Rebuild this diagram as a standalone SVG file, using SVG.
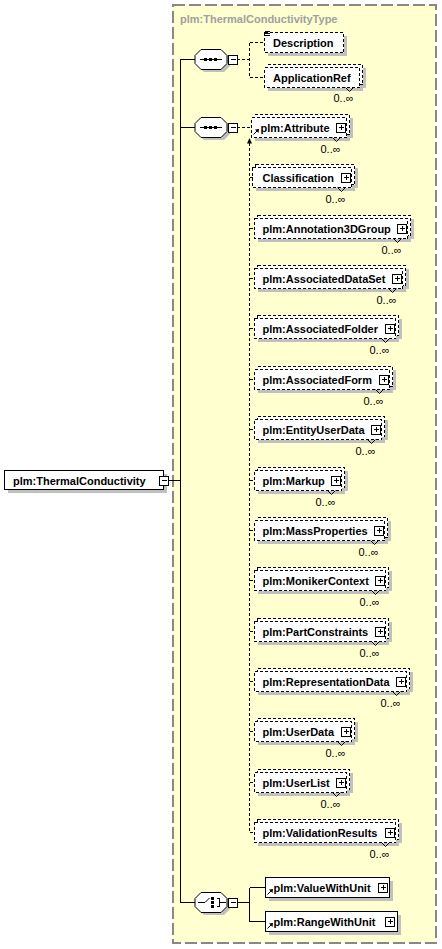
<svg xmlns="http://www.w3.org/2000/svg" width="442" height="949" viewBox="0 0 442 949">
<style>
.t{font-family:"Liberation Sans",Arial,sans-serif;font-size:11px;font-weight:bold;fill:#000}
.ti{font-family:"Liberation Sans",Arial,sans-serif;font-size:11px;font-weight:bold;fill:#a0a0a0}
.m{font-family:"Liberation Sans",Arial,sans-serif;font-size:11px;fill:#000;text-anchor:middle}
.sh{fill:#c0c0c0;shape-rendering:crispEdges}
.bx{fill:#fff;stroke:#000;stroke-dasharray:3 2;shape-rendering:crispEdges}
.sb{fill:#fff;stroke:#000;shape-rendering:crispEdges}
.ln{fill:none;stroke:#000;shape-rendering:crispEdges}
.dl{fill:none;stroke:#000;stroke-dasharray:3 2;shape-rendering:crispEdges}
.v{fill:none;stroke:#000}
.oct{fill:#fff;stroke:#000}
.octs{fill:#c0c0c0}
</style>
<defs>
<path id="oct" d="M6,-10H26L32,-4V4L26,10H6L0,4V-4Z"/>
<g id="plus"><rect class="sb" x="0" y="0" width="9" height="9"/><path class="ln" d="M2,4.5H7M4.5,2V7"/></g>
<g id="minus"><rect class="sb" x="0" y="0" width="9" height="9"/><path class="ln" d="M2,4.5H7"/></g>
</defs>

<g id="type-box">
<rect x="173" y="5" width="263" height="938" fill="#FFFFD0" stroke="#888" stroke-width="2" stroke-dasharray="12 4"/>
<text class="ti" x="180" y="23">plm:ThermalConductivityType</text>
</g>

<g id="connectors">
<path class="ln" d="M168,480.5H180.5M180.5,59V902.5M180.5,59.5H195M180.5,127.5H195M180.5,902.5H195"/>
<path class="dl" d="M237,59.5H249.5M249.5,42.5V77.5M249.5,42.5H264M249.5,77.5H264"/>
<path class="dl" d="M237,127.5H251.5M249.5,143V832.5M249.5,177.5H252.5M249.5,228.5H254.5M249.5,278.5H254.5M249.5,328.5H254.5M249.5,379.5H254.5M249.5,429.5H254.5M249.5,480.5H254.5M249.5,530.5H254.5M249.5,580.5H254.5M249.5,631.5H254.5M249.5,681.5H254.5M249.5,731.5H254.5M249.5,782.5H254.5M249.5,832.5H254.5"/>
<polygon points="249.5,138 247,143.5 252,143.5" fill="#000"/>
<path class="ln" d="M237,902.5H249.5M249.5,887.5V921.5M249.5,887.5H265M249.5,921.5H265"/>
</g>

<g id="root">
<rect class="sh" x="7.5" y="473.5" width="159" height="19"/>
<rect class="sb" x="4.5" y="470.5" width="159" height="19"/>
<text class="t" x="13" y="484.5">plm:ThermalConductivity</text>
<use href="#minus" x="159.5" y="476"/>
</g>

<g id="sequence1">
<use href="#oct" x="198" y="62" class="octs"/>
<use href="#oct" x="195" y="59.5" class="oct"/>
<path class="ln" d="M200,59.5H222"/>
<rect x="204" y="58" width="3" height="3"/><rect x="209" y="58" width="3" height="3"/><rect x="214" y="58" width="3" height="3"/>
<use href="#minus" x="228.5" y="55"/>
</g>

<g id="description">
<rect class="sh" x="267.5" y="35.5" width="79" height="20"/>
<rect class="bx" x="264.5" y="32.5" width="79" height="20"/>
<path class="ln" d="M265,31.5H270M265,33.5H270M265,35.5H270"/>
<text class="t" x="273" y="46.5">Description</text>
</g>

<g id="applicationref">
<rect class="sh" x="270.5" y="67.5" width="95" height="20"/>
<rect class="sh" x="267.5" y="70.5" width="95" height="20"/>
<rect class="bx" x="267.5" y="64.5" width="95" height="20"/>
<rect class="bx" x="264.5" y="67.5" width="95" height="20"/>
<text class="t" x="273" y="81.5">ApplicationRef</text>
<polyline class="v" points="345.5,87.5 349.5,91.5 353.5,87.5"/>
<text class="m" x="343.5" y="102">0..∞</text>
</g>

<g id="sequence2">
<use href="#oct" x="198" y="130" class="octs"/>
<use href="#oct" x="195" y="127.5" class="oct"/>
<path class="ln" d="M200,127.5H222"/>
<rect x="204" y="126" width="3" height="3"/><rect x="209" y="126" width="3" height="3"/><rect x="214" y="126" width="3" height="3"/>
<use href="#minus" x="228.5" y="123"/>
</g>

<g id="attribute">
<rect class="sh" x="257.5" y="117.5" width="95" height="20"/><rect class="sh" x="254.5" y="120.5" width="95" height="20"/>
<rect class="bx" x="254.5" y="114.5" width="95" height="20"/><rect class="bx" x="251.5" y="117.5" width="95" height="20"/>
<path d="M253.5,134.5L257.5,130.5" stroke="#000" fill="none"/><polygon points="259,129 255,129.5 258.5,133" fill="#000"/>
<text class="t" x="260.5" y="131.5">plm:Attribute</text>
<use href="#plus" x="336.5" y="123"/>
<polyline class="v" points="332.5,137.5 336.5,141.5 340.5,137.5"/>
<text class="m" x="330.5" y="152.5">0..∞</text>
</g>

<g id="classification">
<rect class="sh" x="258.5" y="167.5" width="99" height="20"/><rect class="sh" x="255.5" y="170.5" width="99" height="20"/>
<rect class="bx" x="255.5" y="164.5" width="99" height="20"/><rect class="bx" x="252.5" y="167.5" width="99" height="20"/>
<text class="t" x="262.5" y="181.5">Classification</text>
<use href="#plus" x="341.5" y="173"/>
<polyline class="v" points="337.5,187.5 341.5,191.5 345.5,187.5"/>
<text class="m" x="335.5" y="202.5">0..∞</text>
</g>

<g id="annotation3dgroup">
<rect class="sh" x="260.5" y="218.5" width="153" height="20"/><rect class="sh" x="257.5" y="221.5" width="153" height="20"/>
<rect class="bx" x="257.5" y="215.5" width="153" height="20"/><rect class="bx" x="254.5" y="218.5" width="153" height="20"/>
<text class="t" x="262.5" y="232.5">plm:Annotation3DGroup</text>
<use href="#plus" x="397.5" y="224"/>
<polyline class="v" points="393.5,238.5 397.5,242.5 401.5,238.5"/>
<text class="m" x="391.5" y="253.5">0..∞</text>
</g>

<g id="associateddataset">
<rect class="sh" x="260.5" y="268.5" width="148" height="20"/><rect class="sh" x="257.5" y="271.5" width="148" height="20"/>
<rect class="bx" x="257.5" y="265.5" width="148" height="20"/><rect class="bx" x="254.5" y="268.5" width="148" height="20"/>
<text class="t" x="262.5" y="282.5">plm:AssociatedDataSet</text>
<use href="#plus" x="392.5" y="274"/>
<polyline class="v" points="388.5,288.5 392.5,292.5 396.5,288.5"/>
<text class="m" x="386.5" y="303.5">0..∞</text>
</g>

<g id="associatedfolder">
<rect class="sh" x="260.5" y="318.5" width="141" height="20"/><rect class="sh" x="257.5" y="321.5" width="141" height="20"/>
<rect class="bx" x="257.5" y="315.5" width="141" height="20"/><rect class="bx" x="254.5" y="318.5" width="141" height="20"/>
<text class="t" x="262.5" y="332.5">plm:AssociatedFolder</text>
<use href="#plus" x="385.5" y="324"/>
<polyline class="v" points="381.5,338.5 385.5,342.5 389.5,338.5"/>
<text class="m" x="379.5" y="353.5">0..∞</text>
</g>

<g id="associatedform">
<rect class="sh" x="260.5" y="369.5" width="135" height="20"/><rect class="sh" x="257.5" y="372.5" width="135" height="20"/>
<rect class="bx" x="257.5" y="366.5" width="135" height="20"/><rect class="bx" x="254.5" y="369.5" width="135" height="20"/>
<text class="t" x="262.5" y="383.5">plm:AssociatedForm</text>
<use href="#plus" x="379.5" y="375"/>
<polyline class="v" points="375.5,389.5 379.5,393.5 383.5,389.5"/>
<text class="m" x="373.5" y="404.5">0..∞</text>
</g>

<g id="entityuserdata">
<rect class="sh" x="260.5" y="419.5" width="127" height="20"/><rect class="sh" x="257.5" y="422.5" width="127" height="20"/>
<rect class="bx" x="257.5" y="416.5" width="127" height="20"/><rect class="bx" x="254.5" y="419.5" width="127" height="20"/>
<text class="t" x="262.5" y="433.5">plm:EntityUserData</text>
<use href="#plus" x="371.5" y="425"/>
<polyline class="v" points="367.5,439.5 371.5,443.5 375.5,439.5"/>
<text class="m" x="365.5" y="454.5">0..∞</text>
</g>

<g id="markup">
<rect class="sh" x="260.5" y="470.5" width="87" height="20"/><rect class="sh" x="257.5" y="473.5" width="87" height="20"/>
<rect class="bx" x="257.5" y="467.5" width="87" height="20"/><rect class="bx" x="254.5" y="470.5" width="87" height="20"/>
<text class="t" x="262.5" y="484.5">plm:Markup</text>
<use href="#plus" x="331.5" y="476"/>
<polyline class="v" points="327.5,490.5 331.5,494.5 335.5,490.5"/>
<text class="m" x="325.5" y="505.5">0..∞</text>
</g>

<g id="massproperties">
<rect class="sh" x="260.5" y="520.5" width="130" height="20"/><rect class="sh" x="257.5" y="523.5" width="130" height="20"/>
<rect class="bx" x="257.5" y="517.5" width="130" height="20"/><rect class="bx" x="254.5" y="520.5" width="130" height="20"/>
<text class="t" x="262.5" y="534.5">plm:MassProperties</text>
<use href="#plus" x="374.5" y="526"/>
<polyline class="v" points="370.5,540.5 374.5,544.5 378.5,540.5"/>
<text class="m" x="368.5" y="555.5">0..∞</text>
</g>

<g id="monikercontext">
<rect class="sh" x="260.5" y="570.5" width="131" height="20"/><rect class="sh" x="257.5" y="573.5" width="131" height="20"/>
<rect class="bx" x="257.5" y="567.5" width="131" height="20"/><rect class="bx" x="254.5" y="570.5" width="131" height="20"/>
<text class="t" x="262.5" y="584.5">plm:MonikerContext</text>
<use href="#plus" x="375.5" y="576"/>
<polyline class="v" points="371.5,590.5 375.5,594.5 379.5,590.5"/>
<text class="m" x="369.5" y="605.5">0..∞</text>
</g>

<g id="partconstraints">
<rect class="sh" x="260.5" y="621.5" width="131" height="20"/><rect class="sh" x="257.5" y="624.5" width="131" height="20"/>
<rect class="bx" x="257.5" y="618.5" width="131" height="20"/><rect class="bx" x="254.5" y="621.5" width="131" height="20"/>
<text class="t" x="262.5" y="635.5">plm:PartConstraints</text>
<use href="#plus" x="375.5" y="627"/>
<polyline class="v" points="371.5,641.5 375.5,645.5 379.5,641.5"/>
<text class="m" x="369.5" y="656.5">0..∞</text>
</g>

<g id="representationdata">
<rect class="sh" x="260.5" y="671.5" width="152" height="20"/><rect class="sh" x="257.5" y="674.5" width="152" height="20"/>
<rect class="bx" x="257.5" y="668.5" width="152" height="20"/><rect class="bx" x="254.5" y="671.5" width="152" height="20"/>
<text class="t" x="262.5" y="685.5">plm:RepresentationData</text>
<use href="#plus" x="396.5" y="677"/>
<polyline class="v" points="392.5,691.5 396.5,695.5 400.5,691.5"/>
<text class="m" x="390.5" y="706.5">0..∞</text>
</g>

<g id="userdata">
<rect class="sh" x="260.5" y="721.5" width="97" height="20"/><rect class="sh" x="257.5" y="724.5" width="97" height="20"/>
<rect class="bx" x="257.5" y="718.5" width="97" height="20"/><rect class="bx" x="254.5" y="721.5" width="97" height="20"/>
<text class="t" x="262.5" y="735.5">plm:UserData</text>
<use href="#plus" x="341.5" y="727"/>
<polyline class="v" points="337.5,741.5 341.5,745.5 345.5,741.5"/>
<text class="m" x="335.5" y="756.5">0..∞</text>
</g>

<g id="userlist">
<rect class="sh" x="260.5" y="772.5" width="92" height="20"/><rect class="sh" x="257.5" y="775.5" width="92" height="20"/>
<rect class="bx" x="257.5" y="769.5" width="92" height="20"/><rect class="bx" x="254.5" y="772.5" width="92" height="20"/>
<text class="t" x="262.5" y="786.5">plm:UserList</text>
<use href="#plus" x="336.5" y="778"/>
<polyline class="v" points="332.5,792.5 336.5,796.5 340.5,792.5"/>
<text class="m" x="330.5" y="807.5">0..∞</text>
</g>

<g id="validationresults">
<rect class="sh" x="260.5" y="822.5" width="141" height="20"/><rect class="sh" x="257.5" y="825.5" width="141" height="20"/>
<rect class="bx" x="257.5" y="819.5" width="141" height="20"/><rect class="bx" x="254.5" y="822.5" width="141" height="20"/>
<text class="t" x="262.5" y="836.5">plm:ValidationResults</text>
<use href="#plus" x="385.5" y="828"/>
<polyline class="v" points="381.5,842.5 385.5,846.5 389.5,842.5"/>
<text class="m" x="379.5" y="857.5">0..∞</text>
</g>

<g id="choice">
<use href="#oct" x="198" y="905" class="octs"/>
<use href="#oct" x="195" y="902.5" class="oct"/>
<path class="ln" d="M198,902.5H205M216.5,898.5H219.5V906.5H216.5M219.5,902.5H226"/>
<path d="M205,902.5L209.5,898" stroke="#000" fill="none"/>
<rect x="211" y="897" width="3" height="3"/><rect x="211" y="901" width="3" height="3"/><rect x="211" y="905" width="3" height="3"/>
<use href="#minus" x="228.5" y="898"/>
</g>

<g id="valuewithunit">
<rect class="sh" x="268.5" y="880.5" width="124" height="20"/>
<rect class="sb" x="265.5" y="877.5" width="124" height="20"/>
<path d="M267.5,894.5L271.5,890.5" stroke="#000" fill="none"/><polygon points="273,889 269,889.5 272.5,893" fill="#000"/>
<text class="t" x="273.5" y="891.5">plm:ValueWithUnit</text>
<use href="#plus" x="378.5" y="883"/>
</g>

<g id="rangewithunit">
<rect class="sh" x="268.5" y="914.5" width="132" height="20"/>
<rect class="sb" x="265.5" y="911.5" width="132" height="20"/>
<path d="M267.5,928.5L271.5,924.5" stroke="#000" fill="none"/><polygon points="273,923 269,923.5 272.5,927" fill="#000"/>
<text class="t" x="273.5" y="925.5">plm:RangeWithUnit</text>
<use href="#plus" x="385.5" y="917"/>
</g>
</svg>
